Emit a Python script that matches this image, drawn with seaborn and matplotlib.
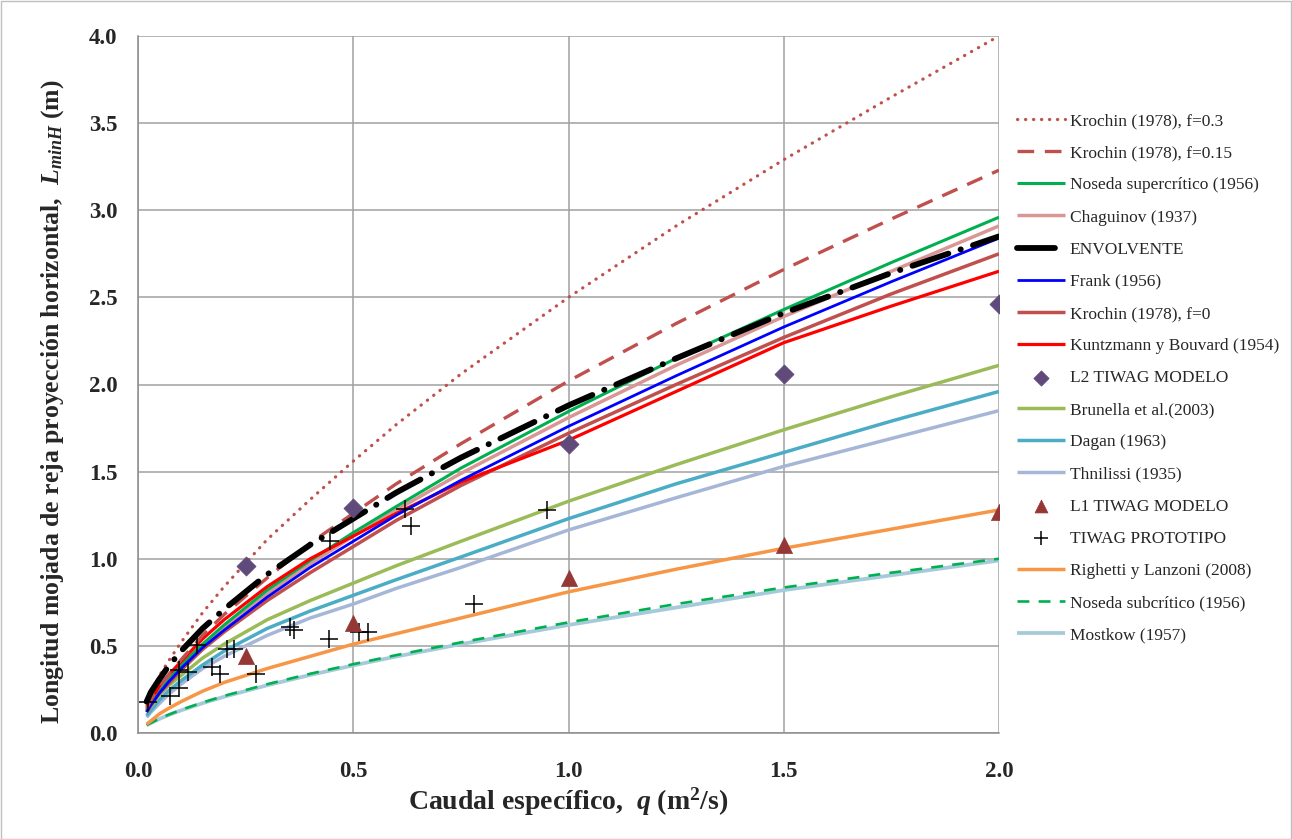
import matplotlib
matplotlib.use("Agg")
import matplotlib.pyplot as plt
import seaborn as sns
import pandas as pd
from matplotlib.patches import Rectangle

# ---------------- data ----------------
q = [0.02, 0.03, 0.05, 0.07, 0.1, 0.15, 0.2, 0.3, 0.4, 0.5, 0.6, 0.75, 1.0, 1.25, 1.5, 1.75, 2.0]

krochin_03   = [0.18, 0.23, 0.33, 0.41, 0.52, 0.69, 0.84, 1.11, 1.34, 1.56, 1.77, 2.06, 2.50, 2.91, 3.29, 3.65, 4.00]
krochin_015  = [0.14, 0.19, 0.27, 0.33, 0.42, 0.56, 0.68, 0.89, 1.09, 1.26, 1.43, 1.66, 2.02, 2.35, 2.66, 2.95, 3.23]
noseda_sup   = [0.13, 0.17, 0.24, 0.30, 0.39, 0.51, 0.62, 0.82, 0.99, 1.15, 1.30, 1.52, 1.845, 2.15, 2.43, 2.70, 2.96]
chaguinov    = [0.13, 0.17, 0.24, 0.30, 0.38, 0.50, 0.61, 0.80, 0.97, 1.13, 1.28, 1.49, 1.81, 2.11, 2.39, 2.65, 2.91]
envolvente   = [0.18, 0.235, 0.31, 0.38, 0.47, 0.60, 0.71, 0.91, 1.08, 1.23, 1.38, 1.58, 1.88, 2.15, 2.41, 2.64, 2.85]
frank        = [0.12, 0.16, 0.23, 0.29, 0.37, 0.49, 0.59, 0.78, 0.95, 1.10, 1.25, 1.45, 1.76, 2.05, 2.33, 2.59, 2.84]
krochin_0    = [0.12, 0.16, 0.23, 0.28, 0.36, 0.48, 0.58, 0.76, 0.92, 1.07, 1.22, 1.42, 1.72, 2.00, 2.27, 2.52, 2.75]
kuntzmann    = [0.15, 0.19, 0.27, 0.33, 0.41, 0.54, 0.65, 0.84, 1.00, 1.13, 1.26, 1.44, 1.68, 1.96, 2.24, 2.45, 2.65]
brunella     = [0.12, 0.15, 0.22, 0.27, 0.33, 0.43, 0.51, 0.65, 0.76, 0.86, 0.96, 1.10, 1.33, 1.54, 1.74, 1.93, 2.11]
dagan        = [0.10, 0.13, 0.19, 0.24, 0.30, 0.39, 0.47, 0.60, 0.70, 0.79, 0.88, 1.01, 1.23, 1.43, 1.61, 1.79, 1.96]
thnilissi    = [0.09, 0.12, 0.17, 0.22, 0.28, 0.37, 0.44, 0.56, 0.66, 0.74, 0.83, 0.95, 1.165, 1.35, 1.53, 1.69, 1.85]
righetti     = [0.05, 0.07, 0.11, 0.14, 0.18, 0.24, 0.29, 0.37, 0.44, 0.51, 0.57, 0.66, 0.81, 0.94, 1.06, 1.17, 1.28]
noseda_sub   = [0.045, 0.058, 0.083, 0.104, 0.133, 0.175, 0.213, 0.28, 0.34, 0.395, 0.447, 0.52, 0.635, 0.74, 0.835, 0.92, 1.00]
mostkow      = [0.044, 0.057, 0.081, 0.102, 0.130, 0.171, 0.208, 0.274, 0.333, 0.388, 0.439, 0.51, 0.62, 0.72, 0.82, 0.905, 0.99]

l2_q = [0.25, 0.5, 1.0, 1.5, 2.0]
l2_L = [0.96, 1.29, 1.66, 2.06, 2.46]
l1_q = [0.25, 0.5, 1.0, 1.5, 2.0]
l1_L = [0.44, 0.63, 0.89, 1.08, 1.27]
proto_q = [0.023, 0.074, 0.095, 0.095, 0.115, 0.136, 0.172, 0.19, 0.206, 0.224, 0.274,
           0.353, 0.362, 0.444, 0.446, 0.514, 0.534, 0.62, 0.634, 0.78, 0.95]
proto_L = [0.18, 0.21, 0.26, 0.36, 0.35, 0.505, 0.38, 0.34, 0.48, 0.48, 0.34,
           0.61, 0.59, 0.54, 1.10, 0.58, 0.58, 1.285, 1.19, 0.74, 1.28]

x_ticks = [0.0, 0.5, 1.0, 1.5, 2.0]
y_ticks = [0.0, 0.5, 1.0, 1.5, 2.0, 2.5, 3.0, 3.5, 4.0]

# ---------------- style ----------------
sns.set_style("white")
plt.rcParams["font.family"] = ["Liberation Serif", "DejaVu Serif"]
plt.rcParams["mathtext.fontset"] = "custom"
plt.rcParams["mathtext.rm"] = "Liberation Serif:bold"
plt.rcParams["mathtext.it"] = "Liberation Serif:italic:bold"
plt.rcParams["mathtext.bf"] = "Liberation Serif:bold"

W, H = 1292, 839
fig = plt.figure(figsize=(W / 100, H / 100), dpi=100)
ax = fig.add_axes([138 / W, 1 - 733 / H, (999 - 138) / W, (733 - 36) / H])

# line series: (label, values, color, linestyle, lw)
lines = [
    ("Mostkow (1957)", mostkow, "#A5CAD9", "-", 2.7),
    ("Noseda subcrítico (1956)", noseda_sub, "#00B050", (0, (4.5, 3.5)), 1.9),
    ("Righetti y Lanzoni (2008)", righetti, "#F79646", "-", 2.5),
    ("Thnilissi (1935)", thnilissi, "#A5B6D6", "-", 2.5),
    ("Dagan (1963)", dagan, "#4BACC6", "-", 2.5),
    ("Brunella et al.(2003)", brunella, "#9BBB59", "-", 2.5),
    ("Krochin (1978), f=0", krochin_0, "#C0504D", "-", 2.5),
    ("Chaguinov (1937)", chaguinov, "#D99694", "-", 2.5),
    ("Noseda supercrítico (1956)", noseda_sup, "#00B050", "-", 2.2),
    ("Kuntzmann y Bouvard (1954)", kuntzmann, "#FF0000", "-", 2.3),
    ("Frank (1956)", frank, "#0000FF", "-", 2.0),
    ("Krochin (1978), f=0.15", krochin_015, "#C0504D", (0, (5, 3.2)), 2.4),
    ("Krochin (1978), f=0.3", krochin_03, "#C0504D", (0, (0.1, 2.4)), 2.3),
]
handles = {}
for label, vals, col, ls, lw in lines:
    df = pd.DataFrame({"q": q, "L": vals})
    sns.lineplot(data=df, x="q", y="L", ax=ax, color=col, linewidth=lw, label=label)
    ln = ax.lines[-1]
    ln.set_linestyle(ls)
    ln.set_solid_capstyle("butt")
    if label.endswith("f=0.3"):
        ln.set_dash_capstyle("round")
    handles[label] = ln

df_env = pd.DataFrame({"q": q, "L": envolvente})
sns.lineplot(data=df_env, x="q", y="L", ax=ax, color="black", linewidth=4.2, label="ENVOLVENTE")
env = ax.lines[-1]
env.set_linestyle((0, (6.5, 2.2, 0.05, 2.2)))
env.set_dash_capstyle("round")
handles["ENVOLVENTE"] = env

sns.scatterplot(x=proto_q, y=proto_L, ax=ax, marker="+", s=160, color="black",
                linewidth=1.1, label="TIWAG PROTOTIPO", zorder=5)
sns.scatterplot(x=l1_q, y=l1_L, ax=ax, marker="^", s=135, color="#953735",
                edgecolor="#953735", linewidth=0.5, label="L1 TIWAG MODELO", zorder=6)
sns.scatterplot(x=l2_q, y=l2_L, ax=ax, marker="D", s=95, color="#604A7B",
                edgecolor="#604A7B", linewidth=0.5, label="L2 TIWAG MODELO", zorder=6)
h_all, l_all = ax.get_legend_handles_labels()
for h, l in zip(h_all, l_all):
    if l not in handles:
        handles[l] = h
ax.get_legend().remove()

# axes
ax.set_xlim(0, 2.0)
ax.set_ylim(0, 4.0)
ax.set_xticks(x_ticks)
ax.set_yticks(y_ticks)
ax.set_xticklabels([f"{v:.1f}" for v in x_ticks])
ax.set_yticklabels([f"{v:.1f}" for v in y_ticks])
ax.grid(True, color="#A0A0A0", linewidth=1.1)
ax.set_axisbelow(True)
for s in ["top", "right"]:
    ax.spines[s].set_visible(False)
for s in ["left", "bottom"]:
    ax.spines[s].set_color("#8C8C8C")
    ax.spines[s].set_linewidth(1.1)
ax.tick_params(axis="both", which="both", direction="out", length=5, width=1.0, color="#8C8C8C",
               labelsize=16.5)
ax.tick_params(axis="x", pad=15)
ax.tick_params(axis="y", pad=10)
for t in ax.get_xticklabels() + ax.get_yticklabels():
    t.set_fontweight("bold")

ax.set_xlabel(r"Caudal específico,  $q$ ($\mathrm{m}^{2}$/s)", fontsize=20, fontweight="bold", labelpad=3)
ax.set_ylabel(r"Longitud mojada de reja proyección horizontal,  $L_{minH}$ (m)", fontsize=18.5,
              fontweight="bold", labelpad=8)
ax.yaxis.set_label_coords(-72 / (999 - 138), (733 - 402) / (733 - 36))

order = ["Krochin (1978), f=0.3", "Krochin (1978), f=0.15", "Noseda supercrítico (1956)",
         "Chaguinov (1937)", "ENVOLVENTE", "Frank (1956)", "Krochin (1978), f=0",
         "Kuntzmann y Bouvard (1954)", "L2 TIWAG MODELO", "Brunella et al.(2003)", "Dagan (1963)",
         "Thnilissi (1935)", "L1 TIWAG MODELO", "TIWAG PROTOTIPO", "Righetti y Lanzoni (2008)",
         "Noseda subcrítico (1956)", "Mostkow (1957)"]
leg = fig.legend([handles[k] for k in order], order, loc="upper left",
                 bbox_to_anchor=(1017 / W, 1 - 113 / H), frameon=False, fontsize=12.5,
                 handlelength=2.75, handletextpad=0.3, labelspacing=0.92, borderpad=0,
                 borderaxespad=0, markerscale=0.8)

fig.patches.append(Rectangle((0.5 / W, 0.5 / H), 1 - 1.5 / W, 1 - 1.5 / H, transform=fig.transFigure,
                             fill=False, edgecolor="#BFBFBF", linewidth=1.0))

fig.savefig("out.png", dpi=100)
